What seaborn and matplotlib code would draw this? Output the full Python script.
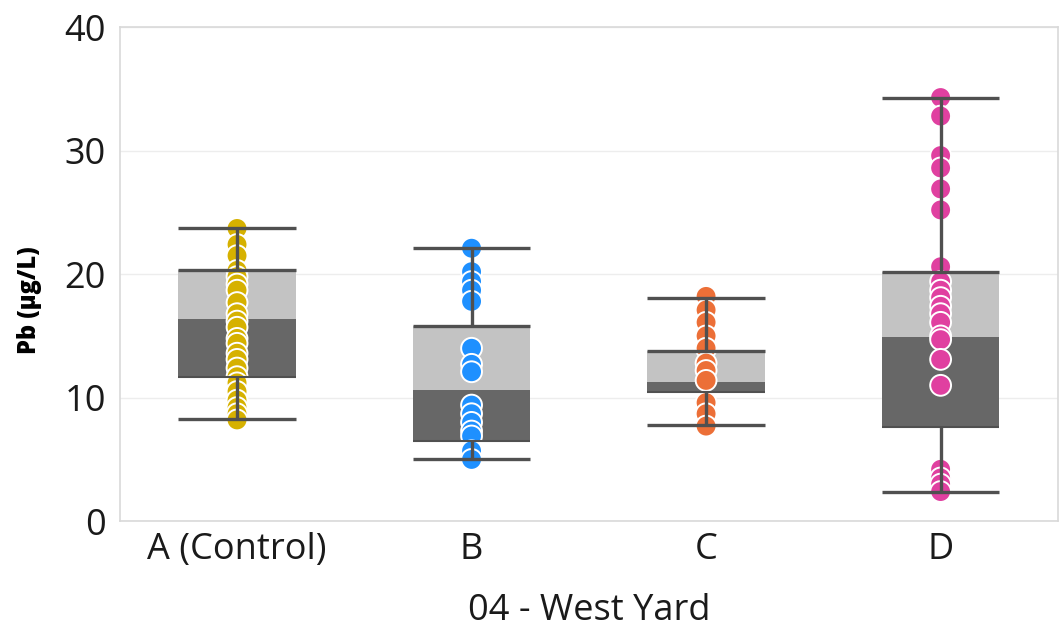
import numpy as np
import pandas as pd
import matplotlib
matplotlib.use("Agg")
import matplotlib.pyplot as plt
import seaborn as sns

# ---- data ----
groups = ["A (Control)", "B", "C", "D"]
colors = ["#D6B100", "#1E90FF", "#EC6F37", "#E040A0"]

vals_a = [23.7, 22.4, 21.5, 20.3, 19.8, 19.2, 18.7, 17.7, 16.8, 16.2, 15.7,
          14.8, 14.4, 13.6, 13.1, 12.4, 11.7, 11.2, 10.5, 9.8, 9.2, 8.7, 8.2]
vals_b = [22.1, 20.2, 19.4, 18.7, 17.8, 14.0, 12.7, 12.1, 9.4, 8.7, 8.0,
          7.3, 6.9, 5.7, 5.0]
vals_c = [18.2, 17.1, 16.1, 15.0, 14.0, 12.8, 12.2, 11.4, 9.6, 8.7, 7.7]
vals_d = [34.3, 32.8, 29.6, 28.6, 26.9, 25.2, 20.6, 19.4, 18.7, 18.1, 17.4,
          16.8, 16.1, 15.0, 14.7, 13.1, 11.0, 4.2, 3.5, 3.0, 2.4]

whisker_low = [8.3, 5.0, 7.8, 2.4]
q1 = [11.7, 6.5, 10.5, 7.6]
median = [16.4, 10.6, 11.3, 14.9]
q3 = [20.3, 15.8, 13.8, 20.2]
whisker_high = [23.7, 22.1, 18.1, 34.3]

y_ticks = [0, 10, 20, 30, 40]
x_title = "04 - West Yard"
y_title = "Pb (µg/L)"

df = pd.DataFrame({
    "site": (["A (Control)"] * len(vals_a) + ["B"] * len(vals_b)
             + ["C"] * len(vals_c) + ["D"] * len(vals_d)),
    "pb": vals_a + vals_b + vals_c + vals_d,
})

sns.set_theme(style="white")
plt.rcParams["font.family"] = ["Open Sans", "DejaVu Sans"]

fig = plt.figure(figsize=(10.6, 6.31), dpi=100)
ax = fig.add_axes([0.113, 0.174, 0.885, 0.783])

pos = np.arange(len(groups))
q1a, meda, q3a = np.array(q1), np.array(median), np.array(q3)
ax.bar(pos, meda - q1a, bottom=q1a, width=0.5, color="#676767", zorder=1, linewidth=0)
ax.bar(pos, q3a - meda, bottom=meda, width=0.5, color="#C3C3C3", zorder=1, linewidth=0)

sns.stripplot(data=df, x="site", y="pb", hue="site", order=groups,
              hue_order=groups, palette=colors, jitter=False, size=15,
              edgecolor="white", linewidth=1.4, legend=False, ax=ax, zorder=2)

wcol = "#505050"
ax.vlines(pos, q3a, whisker_high, color=wcol, lw=2.4, zorder=3)
ax.vlines(pos, whisker_low, q1a, color=wcol, lw=2.4, zorder=3)
ax.hlines(whisker_high, pos - 0.25, pos + 0.25, color=wcol, lw=2.4, zorder=3)
ax.hlines(whisker_low, pos - 0.25, pos + 0.25, color=wcol, lw=2.4, zorder=3)
ax.hlines(q3a, pos - 0.25, pos + 0.25, color=wcol, lw=2.4, zorder=3)
ax.hlines(q1a, pos - 0.25, pos + 0.25, color=wcol, lw=1.5, zorder=3)

ax.set_xlim(-0.5, len(groups) - 0.5)
ax.set_ylim(0, 40)
ax.set_yticks(y_ticks)
ax.set_xticks(pos)
ax.set_xticklabels(groups)
ax.yaxis.grid(True, color="#EDEDED", lw=1)
ax.set_axisbelow(True)
for s in ax.spines.values():
    s.set_color("#D9D9D9")
    s.set_linewidth(1.2)
ax.tick_params(axis="y", labelsize=26, colors="#1A1A1A", length=0, pad=10)
ax.tick_params(axis="x", labelsize=26, colors="#1A1A1A", length=0, pad=8)
ax.set_xlabel(x_title, fontsize=26, color="#1A1A1A", labelpad=18)
ax.set_ylabel(y_title, fontsize=17, fontweight="heavy", color="black")
ax.yaxis.set_label_coords(-0.083, 0.447)

fig.savefig("out.png", dpi=100)
